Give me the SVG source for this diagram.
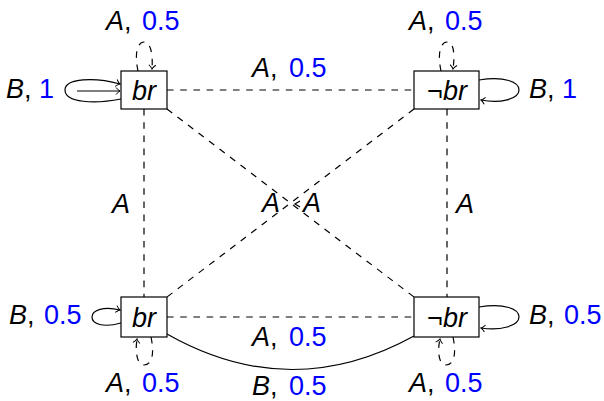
<svg xmlns="http://www.w3.org/2000/svg" width="604" height="401" viewBox="0 0 604 401">
<style>
text{font-family:"Liberation Sans",Arial,sans-serif;font-size:27px;fill:#000}
.i{font-style:italic}
.n{fill:#0000ff}
.box{fill:#fff;stroke:#000;stroke-width:1.2}
.d{fill:none;stroke:#000;stroke-width:1.2;stroke-dasharray:6.6,6.6}
.s{fill:none;stroke:#000;stroke-width:1.2}
</style>
<defs>
<marker id="ah" markerUnits="userSpaceOnUse" markerWidth="12" markerHeight="12" viewBox="-6 -6 12 12" refX="0" refY="0" orient="auto">
<path d="M-4,-3.5 Q-1.5,-0.5 0,0 Q-1.5,0.5 -4,3.5" fill="none" stroke="#000" stroke-width="1"/>
</marker>
</defs>
<g id="connectors">
<path class="d" d="M167,90 L414,90"/>
<path class="d" d="M144,109 L144,297"/>
<path class="d" d="M447,109 L447,297"/>
<path class="d" d="M167,317 L414,317"/>
<path class="d" d="M167,109 L414,297"/>
<path class="d" d="M414,109 L167,297"/>
<path class="s" d="M300,201 L295,204 L300,207"/>
<path class="s" d="M167,334 Q290.5,404 414,336"/>
<path class="d" d="M138,71 C134,52 138,42 144,42 C151,42 153,55 152,69" marker-end="url(#ah)"/>
<path class="d" d="M441,71 C437,52 441,42 447,42 C454,42 455,55 453,69" marker-end="url(#ah)"/>
<path class="d" d="M151,337 C155,356 151,365 144,365 C137,365 135,352 137,339" marker-end="url(#ah)"/>
<path class="d" d="M453,337 C457,356 453,365 446,365 C439,365 437,352 440,339" marker-end="url(#ah)"/>
<path class="s" d="M121,99 C95,104 65,103 65,90 C65,78 95,77 120,84" marker-end="url(#ah)"/>
<path class="s" d="M77,91 L120,91" marker-end="url(#ah)"/>
<path class="s" d="M479,80 C505,76 519,82 519,90 C519,99 500,104 481,100" marker-end="url(#ah)"/>
<path class="s" d="M479,307 C505,303 519,309 519,317 C519,326 500,331 481,328" marker-end="url(#ah)"/>
<path class="s" d="M121,323 C103,328 92,324 92,317 C92,310 104,306 120,310" marker-end="url(#ah)"/>
</g>
<g id="labels">
<text x="106" y="30"><tspan class="i">A</tspan>,<tspan class="n" x="142">0.5</tspan></text>
<text x="409" y="30"><tspan class="i">A</tspan>,<tspan class="n" x="445">0.5</tspan></text>
<text x="6" y="98"><tspan class="i">B</tspan>,<tspan class="n" x="39">1</tspan></text>
<text x="529" y="98"><tspan class="i">B</tspan>,<tspan class="n" x="562">1</tspan></text>
<text x="252" y="77"><tspan class="i">A</tspan>,<tspan class="n" x="289">0.5</tspan></text>
<text x="112" y="213" class="i">A</text>
<text x="456" y="213" class="i">A</text>
<text x="262" y="212" class="i">A</text>
<text x="303" y="212" class="i">A</text>
<text x="9" y="324"><tspan class="i">B</tspan>,<tspan class="n" x="44">0.5</tspan></text>
<text x="529" y="324"><tspan class="i">B</tspan>,<tspan class="n" x="564">0.5</tspan></text>
<text x="252" y="346"><tspan class="i">A</tspan>,<tspan class="n" x="289">0.5</tspan></text>
<text x="252" y="395"><tspan class="i">B</tspan>,<tspan class="n" x="289">0.5</tspan></text>
<text x="106" y="392"><tspan class="i">A</tspan>,<tspan class="n" x="142">0.5</tspan></text>
<text x="409" y="392"><tspan class="i">A</tspan>,<tspan class="n" x="445">0.5</tspan></text>
</g>
<g id="n_tl"><rect class="box" x="121" y="71" width="46" height="38"/><text x="144" y="100" text-anchor="middle" class="i">br</text></g>
<g id="n_tr"><rect class="box" x="414" y="71" width="65" height="38"/><text x="447" y="100" text-anchor="middle">¬<tspan class="i">br</tspan></text></g>
<g id="n_bl"><rect class="box" x="121" y="297" width="46" height="40"/><text x="144" y="327" text-anchor="middle" class="i">br</text></g>
<g id="n_br"><rect class="box" x="414" y="297" width="65" height="40"/><text x="447" y="327" text-anchor="middle">¬<tspan class="i">br</tspan></text></g>
</svg>
